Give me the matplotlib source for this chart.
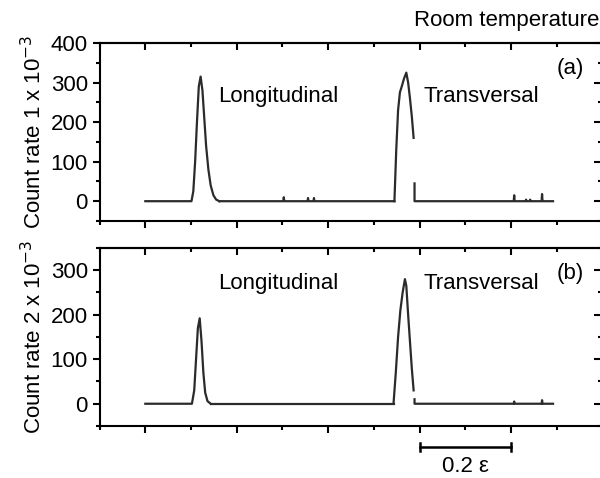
import numpy as np
import matplotlib
matplotlib.use("Agg")
import matplotlib.pyplot as plt
from matplotlib.ticker import MultipleLocator, NullFormatter
from matplotlib.transforms import blended_transform_factory

plt.rcParams["font.family"] = ["Liberation Sans", "DejaVu Sans"]

# strain axis (units of epsilon)
# panel (a): longitudinal peak
a_long_x = [0.000, 0.101, 0.105, 0.109, 0.113, 0.117, 0.121, 0.125, 0.129, 0.133,
            0.138, 0.143, 0.149, 0.155, 0.162]
a_long_y = [0, 0, 25, 100, 200, 290, 315, 280, 210, 140, 80, 40, 15, 4, 0]
# baseline with small spikes between the peaks
a_mid_x = [0.162, 0.302, 0.303, 0.304, 0.355, 0.356, 0.357, 0.368, 0.369, 0.370, 0.545]
a_mid_y = [0, 0, 10, 0, 0, 8, 0, 0, 8, 0, 0]
# transversal peak (trace stops at 0.587)
a_tr_x = [0.545, 0.549, 0.553, 0.557, 0.561, 0.566, 0.571, 0.575, 0.579, 0.583, 0.587]
a_tr_y = [0, 130, 230, 275, 290, 310, 325, 300, 260, 215, 160]
# baseline after the break
a_end_x = [0.589, 0.589, 0.806, 0.807, 0.808, 0.832, 0.833, 0.834, 0.841, 0.842, 0.843,
           0.867, 0.868, 0.869, 0.892]
a_end_y = [45, 0, 0, 15, 0, 0, 4, 0, 0, 4, 0, 0, 18, 0, 0]

# panel (b)
b_long_x = [0.000, 0.102, 0.107, 0.111, 0.115, 0.119, 0.123, 0.127, 0.131, 0.136, 0.143]
b_long_y = [0, 0, 30, 100, 170, 192, 140, 70, 25, 6, 0]
b_mid_x = [0.143, 0.543]
b_mid_y = [0, 0]
b_tr_x = [0.543, 0.548, 0.553, 0.558, 0.563, 0.568, 0.571, 0.575, 0.579, 0.583, 0.587]
b_tr_y = [0, 70, 150, 210, 250, 280, 265, 200, 140, 80, 30]
b_end_x = [0.589, 0.589, 0.806, 0.807, 0.808, 0.867, 0.868, 0.869, 0.892]
b_end_y = [10, 0, 0, 5, 0, 0, 8, 0, 0]

line_color = "#2b2b2b"
fs = 16

fig = plt.figure(figsize=(6, 4.78), dpi=100)
ax1 = fig.add_axes([0.166, 0.5377, 0.838, 0.3724])
ax2 = fig.add_axes([0.166, 0.1088, 0.838, 0.3724])


def style(ax, ylim, label):
    ax.set_xlim(-0.1, 1.0)
    ax.set_ylim(*ylim)
    for s in ax.spines.values():
        s.set_linewidth(1.5)
    ax.xaxis.set_major_locator(MultipleLocator(0.2))
    ax.xaxis.set_minor_locator(MultipleLocator(0.1))
    ax.xaxis.set_major_formatter(NullFormatter())
    ax.yaxis.set_major_locator(MultipleLocator(100))
    ax.yaxis.set_minor_locator(MultipleLocator(50))
    ax.tick_params(axis="x", which="both", bottom=True, top=False, direction="out", width=1.5)
    ax.tick_params(axis="x", which="major", length=5)
    ax.tick_params(axis="x", which="minor", length=3)
    ax.tick_params(axis="y", which="both", left=True, right=False, direction="out", width=1.5,
                   labelsize=fs)
    ax.tick_params(axis="y", which="major", length=5)
    ax.tick_params(axis="y", which="minor", length=3)
    ax.set_ylabel(label, fontsize=fs, labelpad=3)

    # inward ticks on top and right edges
    top = ax.secondary_xaxis("top")
    top.xaxis.set_major_locator(MultipleLocator(0.2))
    top.xaxis.set_minor_locator(MultipleLocator(0.1))
    top.xaxis.set_major_formatter(NullFormatter())
    top.tick_params(which="both", direction="in", width=1.5, labeltop=False)
    top.tick_params(which="major", length=5)
    top.tick_params(which="minor", length=3)
    top.spines["top"].set_linewidth(1.5)
    rt = ax.secondary_yaxis("right")
    rt.yaxis.set_major_locator(MultipleLocator(100))
    rt.yaxis.set_minor_locator(MultipleLocator(50))
    rt.yaxis.set_major_formatter(NullFormatter())
    rt.tick_params(which="both", direction="in", width=1.5, labelright=False)
    rt.tick_params(which="major", length=6)
    rt.tick_params(which="minor", length=3)


style(ax1, (-50, 400), r"Count rate 1 x 10$^{-3}$")
style(ax2, (-50, 350), r"Count rate 2 x 10$^{-3}$")

ax1.plot(a_long_x, a_long_y, color=line_color, lw=1.6)
ax1.plot(a_mid_x, a_mid_y, color=line_color, lw=1.6)
ax1.plot(a_tr_x, a_tr_y, color=line_color, lw=1.6)
ax1.plot(a_end_x, a_end_y, color=line_color, lw=1.6)

ax2.plot(b_long_x, b_long_y, color=line_color, lw=1.6)
ax2.plot(b_mid_x, b_mid_y, color=line_color, lw=1.6)
ax2.plot(b_tr_x, b_tr_y, color=line_color, lw=1.6)
ax2.plot(b_end_x, b_end_y, color=line_color, lw=1.6)

ax1.text(0.29, 265, "Longitudinal", fontsize=fs, ha="center", va="center")
ax1.text(0.734, 265, "Transversal", fontsize=fs, ha="center", va="center")
ax1.text(0.93, 336, "(a)", fontsize=fs, ha="center", va="center")
ax2.text(0.29, 271, "Longitudinal", fontsize=fs, ha="center", va="center")
ax2.text(0.734, 271, "Transversal", fontsize=fs, ha="center", va="center")
ax2.text(0.93, 292, "(b)", fontsize=fs, ha="center", va="center")

fig.text(0.999, 0.958, "Room temperature", fontsize=fs, ha="right", va="center")

# scale bar 0.2 epsilon under panel (b)
tr = blended_transform_factory(ax2.transData, ax2.transAxes)
ax2.plot([0.6, 0.8], [-0.118, -0.118], color="black", lw=1.8, transform=tr, clip_on=False)
ax2.plot([0.6, 0.6], [-0.138, -0.098], color="black", lw=1.8, transform=tr, clip_on=False)
ax2.plot([0.8, 0.8], [-0.138, -0.098], color="black", lw=1.8, transform=tr, clip_on=False)
ax2.text(0.7, -0.225, "0.2 ε", fontsize=fs, ha="center", va="center", transform=tr)

fig.savefig("out.png", dpi=100)
